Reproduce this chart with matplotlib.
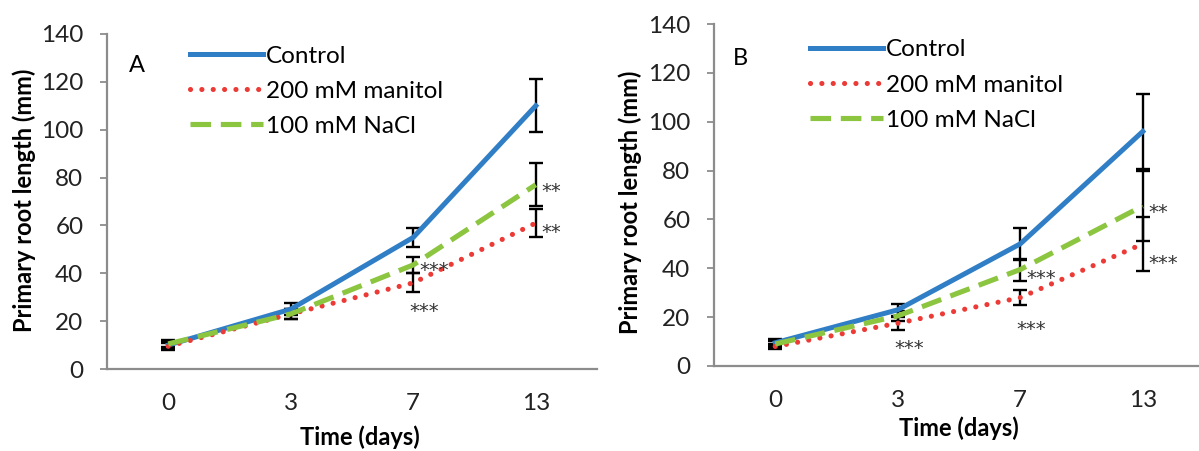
import matplotlib
matplotlib.use("Agg")
import matplotlib.pyplot as plt
import numpy as np

days = ["0", "3", "7", "13"]
series = ["Control", "200 mM manitol", "100 mM NaCl"]

# panel A
a_control = [10, 25, 55, 110]
a_control_err = [1.5, 2.5, 4, 11]
a_manitol = [9.5, 23, 36, 61]
a_manitol_err = [1.5, 2, 4, 6]
a_nacl = [10.5, 23, 43.5, 77]
a_nacl_err = [1.5, 2, 3.5, 9]

# panel B
b_control = [9.5, 23, 50, 96]
b_control_err = [1.5, 2.4, 6.5, 15.5]
b_manitol = [8, 17.5, 28, 50]
b_manitol_err = [1.2, 2.6, 3, 11]
b_nacl = [9, 20.5, 39.5, 65.5]
b_nacl_err = [1.2, 2, 4.5, 14.5]

# significance marks: (day index, y value, label, placement)
a_stars = [(2, 43.5, "***", "right"), (2, 26.5, "***", "below"),
           (3, 76.5, "**", "right"), (3, 59.5, "**", "right")]
b_stars = [(1, 9.5, "***", "below"), (2, 38.5, "***", "right"),
           (2, 17.5, "***", "below"), (3, 65.5, "**", "right"),
           (3, 44.5, "***", "right")]

colors = ["#2f7ec6", "#ec3b36", "#8cc540"]
styles = [dict(ls="-", lw=3.6),
          dict(ls=(0, (0.01, 2.2)), lw=3.7, dash_capstyle="round"),
          dict(ls=(0, (4.0, 1.9)), lw=3.7)]

plt.rcParams["font.family"] = ["Lato", "DejaVu Sans"]

W, H = 1199, 451
fig = plt.figure(figsize=(W / 100, H / 100), dpi=100)
axA = fig.add_axes([107 / W, 1 - 369 / H, 490 / W, 335 / H])
axB = fig.add_axes([714 / W, 1 - 366 / H, 490 / W, 342 / H])

panels = [
    (axA, "A", [a_control, a_manitol, a_nacl],
     [a_control_err, a_manitol_err, a_nacl_err], a_stars,
     (0.061, 0.907), (0.169, 0.965), (-0.145, 0.504), (0.516, -0.168)),
    (axB, "B", [b_control, b_manitol, b_nacl],
     [b_control_err, b_manitol_err, b_nacl_err], b_stars,
     (0.053, 0.900), (0.196, 0.955), (-0.147, 0.48), (0.5, -0.146)),
]

x = np.arange(len(days))
for ax, tag, vals, errs, stars, tagpos, legpos, ylpos, xlpos in panels:
    lines = []
    for name, v, e, c, st in zip(series, vals, errs, colors, styles):
        ax.errorbar(x, v, yerr=e, fmt="none", ecolor="black", elinewidth=1.7,
                    capsize=5, capthick=1.7, zorder=2)
        ln, = ax.plot(x, v, color=c, label=name, zorder=3, **st)
        lines.append(ln)
    for i, y, s, where in stars:
        if where == "right":
            ax.text(i + 0.05, y - 2.5, s, ha="left", va="center", fontsize=14,
                    color="#333333", zorder=4, family="DejaVu Sans")
        else:
            ax.text(i + 0.09, y - 2.5, s, ha="center", va="center", fontsize=14,
                    color="#333333", zorder=4, family="DejaVu Sans")
    ax.set_xlim(-0.5, 3.5)
    ax.set_ylim(0, 140)
    ax.set_yticks(range(0, 141, 20))
    ax.set_xticks(x)
    ax.set_xticklabels(days)
    ax.tick_params(axis="x", length=0, pad=17, labelsize=17.5, colors="#222222")
    ax.tick_params(axis="y", length=5, width=1.3, color="#8c8c8c", pad=12,
                   labelsize=17.5, labelcolor="#222222")
    for sp in ["top", "right"]:
        ax.spines[sp].set_visible(False)
    for sp in ["left", "bottom"]:
        ax.spines[sp].set_color("#8c8c8c")
        ax.spines[sp].set_linewidth(1.6)
    ax.set_ylabel("Primary root length (mm)", fontsize=17, fontweight="bold")
    ax.yaxis.set_label_coords(*ylpos)
    ax.set_xlabel("Time (days)", fontsize=17, fontweight="bold")
    ax.xaxis.set_label_coords(*xlpos)
    ax.text(tagpos[0], tagpos[1], tag, transform=ax.transAxes, fontsize=17,
            ha="center", va="center")
    ax.legend(handles=lines, loc="upper left", bbox_to_anchor=legpos,
              frameon=False, fontsize=17.5, handlelength=3.0, borderpad=0,
              handletextpad=0.12, labelspacing=0.58, borderaxespad=0)

fig.savefig("out.png", dpi=100)
